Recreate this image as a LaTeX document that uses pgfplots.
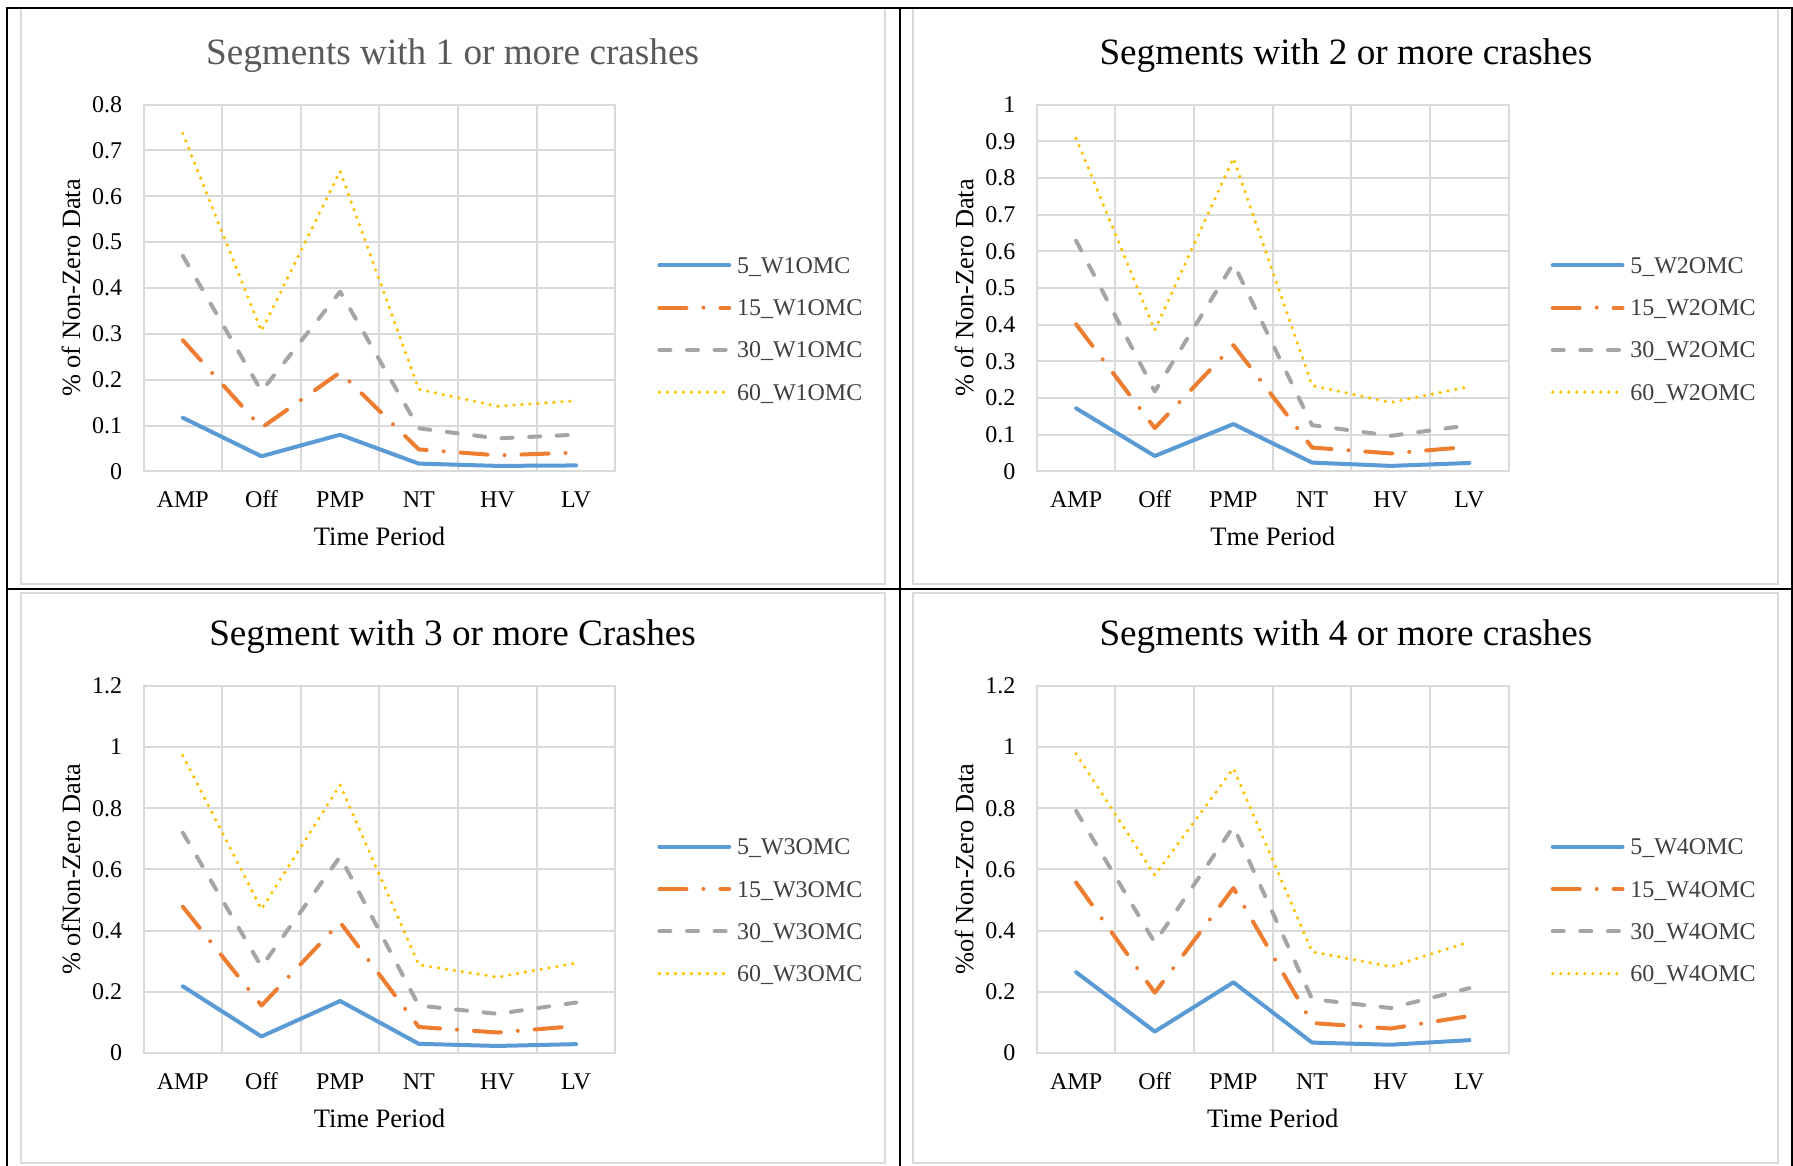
\documentclass[border=0pt]{standalone}
\usepackage{pgfplots}
\usepackage{pgfplotstable}
\pgfplotsset{compat=1.18}
\usepackage{fontspec}
\setmainfont{Liberation Serif}
\definecolor{gridgray}{HTML}{D9D9D9}
\definecolor{cblue}{HTML}{5B9BD5}
\definecolor{corange}{HTML}{ED7D31}
\definecolor{cgray}{HTML}{A5A5A5}
\definecolor{cgold}{HTML}{FFC000}
\definecolor{legtext}{HTML}{404040}
\definecolor{titlegray}{HTML}{595959}

\pgfplotstableread{
x s5 s15 s30 s60
0 0.117 0.286 0.470 0.737
1 0.033 0.095 0.175 0.306
2 0.080 0.216 0.392 0.655
3 0.017 0.048 0.094 0.179
4 0.012 0.035 0.072 0.142
5 0.013 0.041 0.080 0.154
}\tA
\pgfplotstableread{
x s5 s15 s30 s60
0 0.172 0.401 0.629 0.908
1 0.042 0.118 0.218 0.385
2 0.129 0.344 0.567 0.854
3 0.024 0.065 0.126 0.234
4 0.015 0.049 0.097 0.188
5 0.023 0.067 0.126 0.231
}\tB
\pgfplotstableread{
x s5 s15 s30 s60
0 0.218 0.478 0.720 0.972
1 0.054 0.155 0.282 0.470
2 0.170 0.427 0.642 0.876
3 0.030 0.085 0.155 0.288
4 0.023 0.067 0.128 0.248
5 0.029 0.088 0.165 0.294
}\tC
\pgfplotstableread{
x s5 s15 s30 s60
0 0.264 0.557 0.791 0.978
1 0.070 0.197 0.361 0.581
2 0.231 0.539 0.740 0.930
3 0.034 0.098 0.176 0.331
4 0.027 0.080 0.147 0.282
5 0.042 0.121 0.212 0.363
}\tD

\pgfplotsset{
 panel/.style={
  scale only axis, width=235.95pt, height=183.4pt,
  anchor=south west,
  xmin=-0.5, xmax=5.5, ymin=0,
  xtick={0,1,2,3,4,5}, xticklabels={AMP,Off,PMP,NT,HV,LV},
  minor xtick={0.5,1.5,2.5,3.5,4.5},
  xminorgrids=true, xmajorgrids=false, ymajorgrids=true,
  grid style={gridgray, line width=1pt},
  minor grid style={gridgray, line width=1pt},
  axis line style={gridgray, line width=1pt},
  tick style={draw=none},
  /pgf/number format/assume math mode=true,
  tick label style={font=\fontsize{12}{14}\selectfont, inner sep=0pt},
  xticklabel style={anchor=base, yshift=-18.2pt},
  yticklabel style={anchor=east, xshift=-10.5pt},
  xlabel style={at={(rel axis cs:0.5,0)}, anchor=base, yshift=-37pt, inner sep=0pt, font=\fontsize{13.3}{15}\selectfont},
  ylabel style={at={(rel axis cs:-0.1538,0.5)}, anchor=center, inner sep=0pt, font=\fontsize{13.2}{15}\selectfont},
  title style={at={(rel axis cs:0.655,1)}, anchor=base, yshift=14.1pt, inner sep=0pt, font=\fontsize{18.6}{22}\selectfont},
  legend style={at={(rel axis cs:1.089,0.389)}, anchor=west, draw=none, fill=none,
    inner sep=0pt, outer sep=0pt, row sep=13.15pt, column sep=2.9pt,
    font=\fontsize{12}{14}\selectfont, text=legtext,
    nodes={inner sep=0pt, text height=8pt, text depth=0pt}},
  legend cell align=left,
  legend image code/.code={\draw[##1] (0pt,0pt) -- (34.9pt,0pt);},
  every axis plot/.append style={line width=2pt, line join=round},
 },
 s5/.style={cblue, line cap=round},
 s15/.style={corange, line cap=round, dash pattern=on 13.5pt off 8.5pt on 0pt off 8.5pt},
 s30/.style={cgray, line cap=round, dash pattern=on 5.5pt off 8.3pt},
 s60/.style={cgold, line cap=round, line width=1.8pt, dash pattern=on 0pt off 4pt},
}

\begin{document}
\begin{tikzpicture}
\useasboundingbox (0,0) rectangle (896.5pt,-583pt);
% chart frames
\draw[gridgray, line width=0.75pt, fill=white] (10.5pt,-4.25pt) rectangle (442.5pt,-292pt);
\draw[gridgray, line width=0.75pt, fill=white] (456.5pt,-4.25pt) rectangle (889pt,-292pt);
\draw[gridgray, line width=0.75pt, fill=white] (10.5pt,-296.5pt) rectangle (442.5pt,-581.5pt);
\draw[gridgray, line width=0.75pt, fill=white] (456.5pt,-296.5pt) rectangle (889pt,-581.5pt);
% table lines
\draw[black, line width=1pt] (3.25pt,-583pt) -- (3.25pt,-4pt) -- (896pt,-4pt) -- (896pt,-583pt);
\draw[black, line width=1pt] (450pt,-4pt) -- (450pt,-583pt);
\draw[black, line width=1pt] (3.25pt,-294.5pt) -- (896pt,-294.5pt);

\begin{axis}[panel, at={(71.75pt,-235.7pt)}, ymax=0.8,
  ytick={0,0.1,0.2,0.3,0.4,0.5,0.6,0.7,0.8},
  title={\textcolor{titlegray}{Segments with 1 or more crashes}},
  xlabel={Time Period}, ylabel={\% of Non-Zero Data}]
\addplot[s5] table[x=x,y=s5]{\tA}; \addlegendentry{5\_W1OMC}
\addplot[s15] table[x=x,y=s15]{\tA}; \addlegendentry{15\_W1OMC}
\addplot[s30] table[x=x,y=s30]{\tA}; \addlegendentry{30\_W1OMC}
\addplot[s60] table[x=x,y=s60]{\tA}; \addlegendentry{60\_W1OMC}
\end{axis}

\begin{axis}[panel, at={(518.4pt,-235.7pt)}, ymax=1,
  ytick={0,0.1,0.2,0.3,0.4,0.5,0.6,0.7,0.8,0.9,1},
  title={Segments with 2 or more crashes},
  xlabel={Tme Period}, ylabel={\% of Non-Zero Data}]
\addplot[s5] table[x=x,y=s5]{\tB}; \addlegendentry{5\_W2OMC}
\addplot[s15] table[x=x,y=s15]{\tB}; \addlegendentry{15\_W2OMC}
\addplot[s30] table[x=x,y=s30]{\tB}; \addlegendentry{30\_W2OMC}
\addplot[s60] table[x=x,y=s60]{\tB}; \addlegendentry{60\_W2OMC}
\end{axis}

\begin{axis}[panel, at={(71.75pt,-526.5pt)}, height=183.6pt, ymax=1.2,
  ytick={0,0.2,0.4,0.6,0.8,1,1.2},
  title={Segment with 3 or more Crashes},
  xlabel={Time Period}, ylabel={\% ofNon-Zero Data}]
\addplot[s5] table[x=x,y=s5]{\tC}; \addlegendentry{5\_W3OMC}
\addplot[s15] table[x=x,y=s15]{\tC}; \addlegendentry{15\_W3OMC}
\addplot[s30] table[x=x,y=s30]{\tC}; \addlegendentry{30\_W3OMC}
\addplot[s60] table[x=x,y=s60]{\tC}; \addlegendentry{60\_W3OMC}
\end{axis}

\begin{axis}[panel, at={(518.4pt,-526.5pt)}, height=183.6pt, ymax=1.2,
  ytick={0,0.2,0.4,0.6,0.8,1,1.2},
  title={Segments with 4 or more crashes},
  xlabel={Time Period}, ylabel={\%of Non-Zero Data}]
\addplot[s5] table[x=x,y=s5]{\tD}; \addlegendentry{5\_W4OMC}
\addplot[s15] table[x=x,y=s15]{\tD}; \addlegendentry{15\_W4OMC}
\addplot[s30] table[x=x,y=s30]{\tD}; \addlegendentry{30\_W4OMC}
\addplot[s60] table[x=x,y=s60]{\tD}; \addlegendentry{60\_W4OMC}
\end{axis}
\end{tikzpicture}
\end{document}
